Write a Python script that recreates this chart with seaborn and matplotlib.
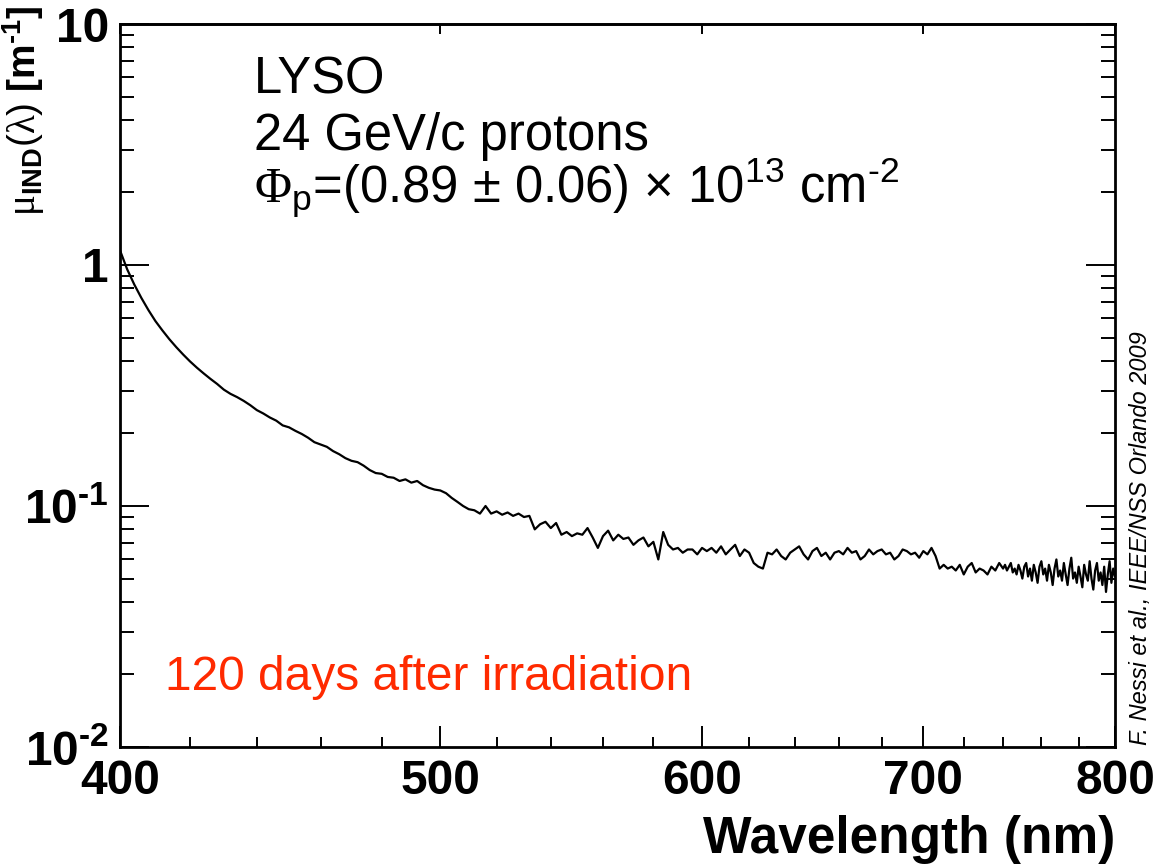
import numpy as np
import pandas as pd
import matplotlib
matplotlib.use("Agg")
import matplotlib.pyplot as plt
import seaborn as sns
from matplotlib.ticker import FixedLocator, FixedFormatter, NullFormatter, LogLocator

# ---------------- data ----------------
wavelength = [400, 402, 404, 406, 408, 410, 412, 414, 416, 418,
              420, 422, 424, 426, 428, 430, 432, 434, 436, 438,
              440, 442, 444, 446, 448, 450, 452, 454, 456, 458,
              460, 462, 464, 466, 468, 470, 472, 474, 476, 478,
              480, 482, 484, 486, 488, 490, 492, 494, 496, 498,
              500, 502, 504, 506, 508, 510, 512, 514, 516, 518,
              520, 522, 524, 526, 528, 530, 532, 534, 536, 538,
              540, 542, 544, 546, 548, 550, 552, 554, 556, 558,
              560, 562, 564, 566, 568, 570, 572, 574, 576, 578,
              580, 582, 584, 586, 588, 590, 592, 594, 596, 598,
              600, 602, 604, 606, 608, 610, 612, 614, 616, 618,
              620, 622, 624, 626, 628, 630, 632, 634, 636, 638,
              640, 642, 644, 646, 648, 650, 652, 654, 656, 658,
              660, 662, 664, 666, 668, 670, 672, 674, 676, 678,
              680, 682, 684, 686, 688, 690, 692, 694, 696, 698,
              700, 702, 704, 706, 708, 710, 712, 714, 716, 718,
              720, 722, 724, 726, 728, 730, 732, 734, 736, 738,
              740, 741, 742, 743, 744, 745, 746, 747, 748, 749,
              750, 751, 752, 753, 754, 755, 756, 757, 758, 759,
              760, 761, 762, 763, 764, 765, 766, 767, 768, 769,
              770, 771, 772, 773, 774, 775, 776, 777, 778, 779,
              780, 781, 782, 783, 784, 785, 786, 787, 788, 789,
              790, 791, 792, 793, 794, 795, 796, 797, 798, 799,
              800]

mu_ind = [1.15, 0.96, 0.83, 0.73, 0.65, 0.585, 0.535, 0.492, 0.456, 0.425,
          0.398, 0.375, 0.355, 0.337, 0.321, 0.304, 0.292, 0.283, 0.273, 0.262,
          0.250, 0.242, 0.233, 0.226, 0.216, 0.212, 0.205, 0.199, 0.192, 0.184,
          0.180, 0.176, 0.169, 0.164, 0.158, 0.154, 0.152, 0.147, 0.141, 0.137,
          0.136, 0.132, 0.131, 0.127, 0.129, 0.125, 0.127, 0.122, 0.119, 0.117,
          0.116, 0.113, 0.108, 0.104, 0.100, 0.097, 0.096, 0.093, 0.100, 0.093,
          0.095, 0.092, 0.094, 0.091, 0.093, 0.090, 0.091, 0.080, 0.084, 0.086,
          0.081, 0.085, 0.076, 0.078, 0.075, 0.077, 0.076, 0.081, 0.074, 0.067,
          0.075, 0.079, 0.072, 0.076, 0.073, 0.074, 0.069, 0.072, 0.074, 0.068,
          0.071, 0.060, 0.078, 0.069, 0.066, 0.067, 0.064, 0.066, 0.066, 0.063,
          0.067, 0.065, 0.067, 0.064, 0.068, 0.063, 0.066, 0.069, 0.062, 0.066,
          0.064, 0.058, 0.056, 0.055, 0.064, 0.063, 0.066, 0.062, 0.060, 0.064,
          0.066, 0.068, 0.063, 0.060, 0.065, 0.067, 0.062, 0.064, 0.060, 0.064,
          0.065, 0.063, 0.067, 0.064, 0.065, 0.060, 0.062, 0.066, 0.063, 0.065,
          0.066, 0.063, 0.064, 0.060, 0.062, 0.066, 0.065, 0.063, 0.064, 0.061,
          0.065, 0.063, 0.067, 0.062, 0.055, 0.057, 0.055, 0.056, 0.054, 0.057,
          0.052, 0.056, 0.058, 0.053, 0.055, 0.054, 0.052, 0.056, 0.054, 0.058,
          0.055, 0.057, 0.054, 0.056, 0.058, 0.053, 0.055, 0.052, 0.057, 0.054,
          0.050, 0.056, 0.058, 0.051, 0.055, 0.049, 0.057, 0.053, 0.048, 0.056,
          0.059, 0.052, 0.055, 0.049, 0.057, 0.053, 0.047, 0.055, 0.060, 0.051,
          0.054, 0.049, 0.058, 0.052, 0.047, 0.055, 0.061, 0.050, 0.053, 0.048,
          0.056, 0.051, 0.046, 0.057, 0.052, 0.049, 0.059, 0.050, 0.045, 0.054,
          0.058, 0.049, 0.053, 0.047, 0.056, 0.044, 0.052, 0.059, 0.048, 0.055,
          0.051]

HY = "\u00ad"  # hyphen-like glyph (avoids the long math minus)
x_major = [400, 500, 600, 700, 800]
x_major_labels = ["400", "500", "600", "700", "800"]
x_minor = [420, 440, 460, 480, 520, 540, 560, 580, 620, 640, 660, 680,
           720, 740, 760, 780]
y_major = [0.01, 0.1, 1, 10]
y_major_labels = ["$10^{" + HY + "2}$", "$10^{" + HY + "1}$", "1", "10"]

df = pd.DataFrame({"wavelength": wavelength, "mu": mu_ind})

# ---------------- style ----------------
sns.set_theme(style="white")
plt.rcParams["font.family"] = ["Liberation Sans", "DejaVu Sans"]
plt.rcParams["mathtext.fontset"] = "custom"
plt.rcParams["mathtext.rm"] = "Liberation Sans"
plt.rcParams["mathtext.it"] = "Liberation Sans:italic"
plt.rcParams["mathtext.bf"] = "Liberation Sans:bold"
plt.rcParams["mathtext.sf"] = "Liberation Sans"
plt.rcParams["mathtext.tt"] = "Liberation Serif"
plt.rcParams["mathtext.default"] = "regular"
plt.rcParams["text.color"] = "black"
plt.rcParams["axes.labelcolor"] = "black"
plt.rcParams["xtick.color"] = "black"
plt.rcParams["ytick.color"] = "black"

W, H = 1157, 866
fig = plt.figure(figsize=(W / 100, H / 100), dpi=100)
ax = fig.add_axes([120 / W, 1 - 747 / H, 995 / W, 723 / H])

sns.lineplot(data=df, x="wavelength", y="mu", ax=ax, color="black",
             linewidth=1.6, estimator=None)

ax.set_xscale("log")
ax.set_yscale("log")
ax.set_xlim(400, 800)
ax.set_ylim(0.01, 10)

ax.xaxis.set_major_locator(FixedLocator(x_major))
ax.xaxis.set_major_formatter(FixedFormatter(x_major_labels))
ax.xaxis.set_minor_locator(FixedLocator(x_minor))
ax.xaxis.set_minor_formatter(NullFormatter())

ax.yaxis.set_major_locator(FixedLocator(y_major))
ax.yaxis.set_major_formatter(FixedFormatter(y_major_labels))
ax.yaxis.set_minor_locator(LogLocator(base=10, subs=np.arange(2, 10)))
ax.yaxis.set_minor_formatter(NullFormatter())

for sp in ax.spines.values():
    sp.set_linewidth(2.0)
    sp.set_color("black")

ax.tick_params(axis="x", which="major", direction="in", length=15, width=1.4,
               pad=9, labelsize=34.5, bottom=True, top=False, colors="black")
ax.tick_params(axis="x", which="minor", direction="in", length=7, width=1.4,
               bottom=True, top=False)
ax.tick_params(axis="y", which="major", direction="in", length=21, width=1.4,
               pad=8, labelsize=34.5, left=True, right=True, colors="black")
ax.tick_params(axis="y", which="minor", direction="in", length=10, width=1.4,
               left=True, right=True)
for lab in ax.get_xticklabels() + ax.get_yticklabels():
    lab.set_fontweight("bold")

# top axis: only short major ticks
top = ax.secondary_xaxis("top")
top.xaxis.set_major_locator(FixedLocator(x_major))
top.xaxis.set_minor_locator(FixedLocator([]))
top.tick_params(axis="x", which="major", direction="in", length=7.5, width=1.4,
                labeltop=False)
top.spines["top"].set_linewidth(2.0)

ax.set_xlabel("Wavelength (nm)", fontsize=37, fontweight="bold", loc="right",
              color="black")
ax.xaxis.set_label_coords(1.0, -(815 - 747) / 723)
ax.xaxis.label.set_va("top")

ax.set_ylabel(r"$\mathtt{\mu}_{IND}\mathsf{(}\mathtt{\lambda}\mathsf{)}$ [m$^{" + HY + "1}$]",
              fontsize=28, fontweight="bold", loc="top", color="black")
ax.yaxis.set_label_coords((47 - 120) / 995, 1 + 19 / 723)

# annotations
tx = (254 - 120) / 995
ax.text(tx, (747 - 93) / 723, "LYSO", transform=ax.transAxes,
        fontsize=36.5, va="baseline", ha="left", color="black")
ax.text(tx, (747 - 150) / 723, "24 GeV/c protons", transform=ax.transAxes,
        fontsize=36.5, va="baseline", ha="left", color="black")
ax.text(tx, (747 - 203) / 723,
        r"$\mathtt{\Phi}_{p}$=(0.89 ± 0.06) × 10$^{13}$ cm$^{" + HY + "2}$",
        transform=ax.transAxes, fontsize=36.5, va="baseline", ha="left",
        color="black")
ax.text((165 - 120) / 995, (747 - 690) / 723, "120 days after irradiation",
        transform=ax.transAxes, fontsize=34.5, va="baseline", ha="left",
        color="#ff2a00")

fig.text(1140 / W, 1 - 745 / H, "F. Nessi et al., IEEE/NSS Orlando 2009",
         rotation=90, fontsize=17, style="italic", ha="center", va="bottom",
         color="black")

fig.savefig("out.png", dpi=100, facecolor="white")
